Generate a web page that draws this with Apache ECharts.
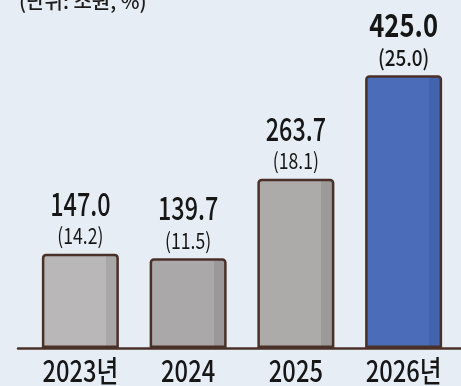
<!DOCTYPE html>
<html>
<head>
<meta charset="utf-8">
<style>
  html, body { margin: 0; padding: 0; background: #e7edf4; }
  #chart { width: 461px; height: 386px; }
</style>
<script src="https://cdn.jsdelivr.net/npm/echarts@6/dist/echarts.min.js"></script>
</head>
<body>
<div id="chart"></div>
<script>
// Yearly totals (조원) and growth rates (%)
const years = ['2023년', '2024', '2025', '2026년'];
const amounts = [147.0, 139.7, 263.7, 425.0];
const rates = [14.2, 11.5, 18.1, 25.0];
const unitNote = '(단위: 조원, %)';
const highlight = 3; // the forecast year is drawn in blue and heavier type

// Fill colours per bar: [face, shaded right edge]
const fills = [
  ['#b9b7b8', '#a9a7a8'],
  ['#aaa8a8', '#9a9898'],
  ['#adaba9', '#9c9a98'],
  ['#4b6db9', '#4263ad']
];
const edge = '#4a3128';
const ink = '#161616';
const face = '"Noto Sans CJK KR", sans-serif';

function barFill(pair) {
  return new echarts.graphic.LinearGradient(0, 0, 1, 0, [
    { offset: 0, color: pair[0] },
    { offset: 0.83, color: pair[0] },
    { offset: 0.831, color: pair[1] },
    { offset: 1, color: pair[1] }
  ]);
}

// Narrow text: a horizontally squeezed glyph run, centred on (x, y)
function narrowText(text, x, y, size, squeeze, weight) {
  return {
    type: 'text',
    x: x,
    y: y,
    scaleX: squeeze,
    z: 10,
    style: {
      text: text,
      font: (weight || 400) + ' ' + size + 'px ' + face,
      fill: ink,
      align: 'center',
      verticalAlign: 'middle',
      textAlign: 'center',
      textVerticalAlign: 'middle'
    }
  };
}

const chart = echarts.init(document.getElementById('chart'));

chart.setOption({
  backgroundColor: '#e7edf4',
  animation: false,
  grid: [
    { left: 26.5, right: 3.5, top: 27, bottom: 38 },
    { left: 18, right: 0, top: 27, bottom: 38 }
  ],
  xAxis: [{
    type: 'category',
    data: years,
    gridIndex: 0,
    axisLine: { show: false },
    axisTick: { show: false },
    axisLabel: { show: false }
  }, {
    type: 'value',
    gridIndex: 1,
    min: 0,
    max: 1,
    axisLine: { show: true, lineStyle: { color: edge, width: 2.5 } },
    axisTick: { show: false },
    axisLabel: { show: false },
    splitLine: { show: false }
  }],
  yAxis: [{
    type: 'value',
    gridIndex: 0,
    min: 0,
    max: 500,
    show: false
  }, {
    type: 'value',
    gridIndex: 1,
    show: false
  }],
  series: [{
    type: 'bar',
    xAxisIndex: 0,
    yAxisIndex: 0,
    barWidth: 77,
    z: 3,
    data: amounts.map((v, i) => ({
      value: v,
      itemStyle: {
        color: barFill(fills[i]),
        borderColor: edge,
        borderWidth: 2.5,
        borderRadius: [3, 3, 0, 0]
      }
    }))
  }]
});

// Value, rate and year labels placed from the axis scales
const texts = [{
  type: 'text',
  left: 19,
  top: -9,
  style: { text: unitNote, font: '500 20px ' + face, fill: '#1c1c1c' }
}];
amounts.forEach((v, i) => {
  const top = chart.convertToPixel({ xAxisIndex: 0, yAxisIndex: 0 }, [i, v]);
  const base = chart.convertToPixel({ xAxisIndex: 0, yAxisIndex: 0 }, [i, 0]);
  const heavy = i === highlight;
  texts.push(narrowText(v.toFixed(1), top[0], top[1] - 50, 32, heavy ? 0.8 : 0.73, heavy ? 600 : 500));
  texts.push(narrowText('(' + rates[i].toFixed(1) + ')', top[0], top[1] - 18, 22, heavy ? 0.86 : 0.8, heavy ? 500 : 400));
  texts.push(narrowText(years[i], base[0], base[1] + 23, 30, 0.79, 500));
});
chart.setOption({ graphic: texts });
</script>
</body>
</html>
